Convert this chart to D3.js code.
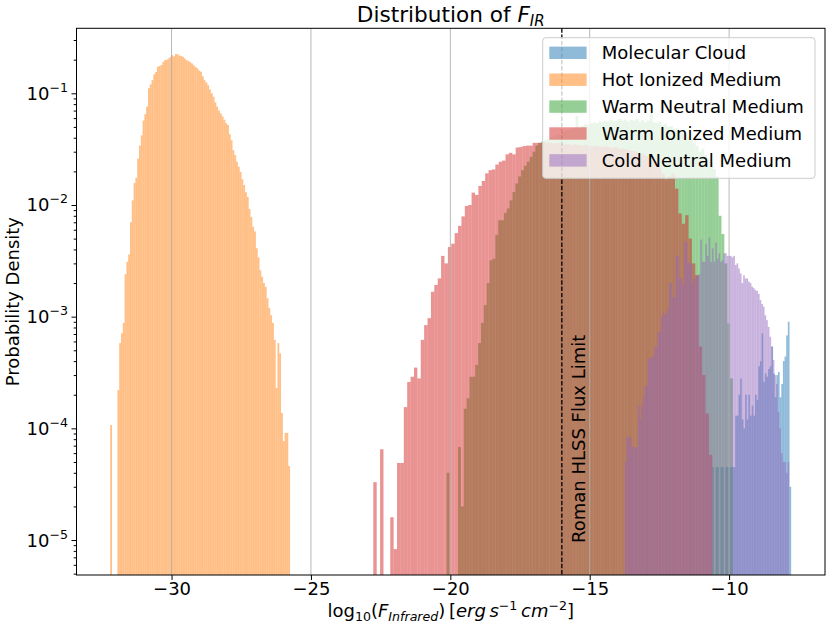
<!DOCTYPE html>
<html>
<head>
  <meta charset="utf-8">
  <script src="https://cdn.jsdelivr.net/npm/d3@7"></script>
  <style>
    body { margin: 0; background: #fff; }
    text { font-family: "DejaVu Sans", sans-serif; fill: #000; }
  </style>
</head>
<body>
<script>
  // --- data ---
  var seriesNames = ["Molecular Cloud", "Hot Ionized Medium", "Warm Neutral Medium",
                     "Warm Ionized Medium", "Cold Neutral Medium"];
  // left edge of the first bin and bin width, per series (log10 flux units)
  var binStart = [-10.606, -32.2, -20.133, -22.763, -13.744];
  var binWidth = [0.059, 0.0645, 0.1027, 0.1216, 0.059];

  var molecularCloud = [
    4.5e-5, 0, 4.5e-5, 4.5e-5, 0, 4.5e-5, 4.5e-5, 0, 4.5e-5, 4.5e-5,
    4.5e-5, 4.5e-5, 4.5e-5, 4.5e-5, 1.3e-4, 1.3e-4, 2.0e-4, 2.8e-4, 1.2e-4, 1.0e-4,
    2.0e-4, 1.2e-4, 2.0e-4, 1.3e-4, 1.6e-4, 1.3e-4, 2.0e-4, 1.8e-4, 3.6e-4, 4.0e-4,
    7.1e-4, 2.6e-4, 3.1e-4, 2.9e-4, 3.4e-4, 3.6e-4, 5.4e-4, 3.1e-4, 1.9e-4, 3.0e-4,
    3.2e-4, 1.9e-4, 2.5e-4, 4.0e-4, 4.4e-4, 6.8e-4, 9.0e-4, 3e-5];

  var hotIonized = [
    1.07e-4, 0, 0, 0, 2.2e-4, 5.8e-4, 7.1e-4, 8.8e-4, 2.4e-3, 3.1e-3,
    3.6e-3, 7.0e-3, 1.1e-2, 1.57e-2, 1.75e-2, 2.6e-2, 3.4e-2, 4.2e-2, 5.7e-2, 6.5e-2,
    7.6e-2, 0.111, 0.12, 0.131, 0.148, 0.155, 0.173, 0.176, 0.179, 0.191,
    0.198, 0.2, 0.205, 0.212, 0.22, 0.214, 0.225, 0.224, 0.218, 0.216,
    0.212, 0.205, 0.198, 0.195, 0.19, 0.185, 0.178, 0.172, 0.167, 0.16,
    0.156, 0.142, 0.131, 0.125, 0.118, 0.108, 0.1, 0.093, 0.083, 0.076,
    0.07, 0.066, 0.062, 0.058, 0.054, 0.052, 0.043, 0.038, 0.031, 0.028,
    0.0244, 0.022, 0.0198, 0.017, 0.0151, 0.013, 0.0118, 0.0092, 0.0078, 0.0064,
    0.0058, 0.0041, 0.0034, 0.0026, 0.00228, 0.002, 0.00185, 0.00146, 0.0012, 0.00103,
    8.8e-4, 6.2e-4, 2.3e-4, 5.8e-4, 4.7e-4, 1.37e-4, 7.7e-5, 9.1e-5, 9.1e-5, 4.6e-5];

  var warmNeutral = [
    4e-5, 0, 0, 0, 6.8e-5, 2e-5, 1.5e-4, 1.86e-4, 2.9e-4, 2.9e-4,
    3.7e-4, 5.8e-4, 8.8e-4, 1.27e-3, 2.0e-3, 3.2e-3, 3.3e-3, 5.4e-3, 7.3e-3, 7.3e-3,
    8.5e-3, 9.3e-3, 1.1e-2, 1.31e-2, 1.56e-2, 1.8e-2, 2.05e-2, 2.25e-2, 2.44e-2, 2.7e-2,
    3.0e-2, 3.4e-2, 3.6e-2, 3.7e-2, 3.8e-2, 3.9e-2, 4.0e-2, 4.1e-2, 4.2e-2, 4.3e-2,
    4.5e-2, 4.6e-2, 4.7e-2, 4.8e-2, 4.9e-2, 6.3e-2, 5.0e-2, 5.1e-2, 5.3e-2, 5.2e-2,
    5.4e-2, 5.5e-2, 5.4e-2, 5.6e-2, 5.5e-2, 5.7e-2, 5.6e-2, 5.8e-2, 5.6e-2, 5.7e-2,
    5.9e-2, 5.7e-2, 5.8e-2, 5.6e-2, 5.8e-2, 5.7e-2, 5.9e-2, 5.6e-2, 5.8e-2, 5.5e-2,
    5.7e-2, 6.6e-2, 5.5e-2, 5.4e-2, 5.6e-2, 5.2e-2, 5.3e-2, 5.0e-2, 5.1e-2, 4.8e-2,
    4.9e-2, 4.6e-2, 4.4e-2, 4.5e-2, 4.1e-2, 3.9e-2, 3.6e-2, 3.4e-2, 3.0e-2, 3.2e-2,
    2.8e-2, 2.6e-2, 2.4e-2, 2.1e-2, 1.8e-2, 8e-3, 5.5e-3, 3.0e-3, 8.7e-4, 2.8e-4];

  var warmIonized = [
    3.3e-5, 0, 6.5e-5, 0, 0, 1.6e-5, 8.3e-6, 4.9e-5, 4.9e-5, 1.55e-4,
    2.6e-4, 2.9e-4, 3.5e-4, 2.8e-4, 6.2e-4, 8.4e-4, 9.7e-4, 1.67e-3, 1.92e-3, 2.2e-3,
    3.5e-3, 3.0e-3, 4.2e-3, 4.5e-3, 5.6e-3, 6.5e-3, 7.9e-3, 9.8e-3, 1.0e-2, 1.29e-2,
    1.23e-2, 1.48e-2, 1.64e-2, 1.92e-2, 2.05e-2, 2.08e-2, 2.3e-2, 2.44e-2, 2.5e-2, 2.84e-2,
    2.93e-2, 2.84e-2, 3.27e-2, 3.3e-2, 3.37e-2, 3.4e-2, 3.4e-2, 3.6e-2, 3.6e-2, 3.6e-2,
    3.65e-2, 3.6e-2, 3.6e-2, 3.55e-2, 3.6e-2, 3.55e-2, 3.5e-2, 3.5e-2, 3.45e-2, 3.5e-2,
    3.45e-2, 3.4e-2, 3.45e-2, 3.4e-2, 3.35e-2, 3.4e-2, 3.35e-2, 3.3e-2, 3.35e-2, 3.3e-2,
    3.25e-2, 3.3e-2, 3.2e-2, 3.2e-2, 3.15e-2, 3.1e-2, 3.05e-2, 3.0e-2, 2.9e-2, 2.85e-2,
    2.75e-2, 2.65e-2, 2.5e-2, 2.35e-2, 2.2e-2, 1.9e-2, 1.7e-2, 1.8e-2, 1.9e-2, 1.4e-2,
    8.4e-3, 6.8e-3, 8.1e-3, 5.0e-3, 3.0e-3, 2.35e-3, 5.4e-4, 3.0e-4, 1.36e-4, 5.8e-5];

  var coldNeutral = [
    5e-5, 8.4e-5, 8.4e-5, 8.4e-5, 6.8e-5, 6.8e-5, 6.8e-5, 6.8e-5, 1.6e-4, 1.2e-4,
    1.6e-4, 1.9e-4, 2.4e-4, 2.4e-4, 4.2e-4, 4.2e-4, 4.3e-4, 4.5e-4, 5.4e-4, 5.4e-4,
    7.3e-4, 7.3e-4, 1.0e-3, 1.1e-3, 1.03e-3, 1.07e-3, 1.2e-3, 2.0e-3, 2.0e-3, 1.5e-3,
    1.5e-3, 3.5e-3, 3.5e-3, 2.2e-3, 2.2e-3, 1.9e-3, 4.7e-3, 4.7e-3, 3.1e-3, 3.0e-3,
    3.0e-3, 2.0e-3, 2.2e-3, 2.35e-3, 2.35e-3, 2.4e-3, 4.9e-3, 3.1e-3, 3.1e-3, 4.5e-3,
    3.5e-3, 5.1e-3, 3.1e-3, 4.1e-3, 3.1e-3, 4.6e-3, 3.3e-3, 3.7e-3, 3.1e-3, 3.2e-3,
    3.7e-3, 3.7e-3, 3.5e-3, 3.5e-3, 3.5e-3, 3.4e-3, 3.5e-3, 2.9e-3, 3.0e-3, 2.7e-3,
    2.44e-3, 2.0e-3, 2.35e-3, 2.2e-3, 2.2e-3, 2.06e-3, 2.0e-3, 1.86e-3, 1.8e-3, 1.73e-3,
    1.7e-3, 1.6e-3, 1.41e-3, 1.3e-3, 1.23e-3, 1.03e-3, 9.3e-4, 8.1e-4, 6.6e-4, 5.4e-4,
    4.1e-4, 3.0e-4, 2.5e-4, 1.4e-4, 1.0e-4, 6e-5, 5e-5, 5e-5, 4e-5, 5e-5];

  var seriesValues = [molecularCloud, hotIonized, warmNeutral, warmIonized, coldNeutral];
  var xTicks = [-30, -25, -20, -15, -10];
  var yTickExponents = [-5, -4, -3, -2, -1];
  var fluxLimit = -16;

  // --- layout ---
  var colors = ["#1f77b4", "#ff7f0e", "#2ca02c", "#d62728", "#9467bd"];
  var width = 831, height = 629;
  var plotL = 76.5, plotR = 825, plotT = 28.3, plotB = 575;

  var x = d3.scaleLinear().domain([-33.41, -6.56]).range([plotL, plotR]);
  var y = d3.scaleLog().domain([Math.pow(10, -5.313), Math.pow(10, -0.418)]).range([plotB, plotT]);

  var svg = d3.select("body").append("svg")
      .attr("width", width).attr("height", height);

  svg.append("clipPath").attr("id", "plot")
    .append("rect").attr("x", plotL).attr("y", plotT)
      .attr("width", plotR - plotL).attr("height", plotB - plotT);

  var plot = svg.append("g").attr("clip-path", "url(#plot)");

  // histograms, drawn in the same order as the legend
  seriesValues.forEach(function (vals, i) {
    var bins = vals.map(function (v, k) {
      return { x0: binStart[i] + k * binWidth[i], x1: binStart[i] + (k + 1) * binWidth[i], v: v };
    }).filter(function (b) { return b.v > 0; });

    plot.append("g")
      .selectAll("rect")
      .data(bins)
      .enter().append("rect")
        .attr("x", function (b) { return x(b.x0); })
        .attr("width", function (b) { return x(b.x1) - x(b.x0); })
        .attr("y", function (b) { return y(b.v); })
        .attr("height", function (b) { return plotB - y(b.v); })
        .attr("fill", colors[i])
        .attr("fill-opacity", 0.5);
  });

  // vertical grid (sits above the bars, like matplotlib)
  plot.append("g").selectAll("line")
    .data(xTicks).enter().append("line")
      .attr("x1", function (d) { return x(d); }).attr("x2", function (d) { return x(d); })
      .attr("y1", plotT).attr("y2", plotB)
      .attr("stroke", "#b0b0b0").attr("stroke-width", 0.9);

  // flux limit line + label
  plot.append("line")
    .attr("x1", x(fluxLimit)).attr("x2", x(fluxLimit))
    .attr("y1", plotT).attr("y2", plotB)
    .attr("stroke", "#000").attr("stroke-width", 1.3)
    .attr("stroke-dasharray", "4.4,1.9");

  svg.append("text")
    .attr("transform", "translate(" + (x(fluxLimit) + 23) + "," + 543 + ") rotate(-90)")
    .style("font-size", "18px")
    .text("Roman HLSS Flux Limit");

  // frame
  svg.append("rect")
    .attr("x", plotL).attr("y", plotT)
    .attr("width", plotR - plotL).attr("height", plotB - plotT)
    .attr("fill", "none").attr("stroke", "#000").attr("stroke-width", 1);

  // x axis
  var xAxis = svg.append("g")
      .attr("transform", "translate(0," + plotB + ")")
      .call(d3.axisBottom(x).tickValues(xTicks).tickSize(5).tickPadding(2.5)
        .tickFormat(d3.format("d")));
  xAxis.select(".domain").remove();
  xAxis.selectAll("text").style("font-size", "18px").style("font-family", "DejaVu Sans");

  // y axis: major ticks, minor ticks, mathtext-like labels
  var minor = [];
  for (var e = -6; e <= 0; e++) {
    for (var m = 2; m <= 9; m++) {
      var v = m * Math.pow(10, e);
      if (v > y.domain()[0] && v < y.domain()[1]) minor.push(v);
    }
  }
  var yMinor = svg.append("g").attr("transform", "translate(" + plotL + ",0)")
      .call(d3.axisLeft(y).tickValues(minor).tickSize(2.8).tickFormat(""));
  yMinor.select(".domain").remove();

  var yMajor = svg.append("g").attr("transform", "translate(" + plotL + ",0)")
      .call(d3.axisLeft(y).tickValues(yTickExponents.map(function (p) { return Math.pow(10, p); }))
        .tickSize(5).tickFormat(""));
  yMajor.select(".domain").remove();

  yTickExponents.forEach(function (p) {
    var t = svg.append("text")
        .attr("x", plotL - 8.5)
        .attr("y", y(Math.pow(10, p)) + 6.5)
        .attr("text-anchor", "end")
        .style("font-size", "18px");
    t.append("tspan").text("10");
    t.append("tspan").attr("dy", -8).style("font-size", "12.6px").text("\u2212" + Math.abs(p));
  });

  // labels
  svg.append("text")
    .attr("transform", "translate(19," + ((plotT + plotB) / 2) + ") rotate(-90)")
    .attr("text-anchor", "middle")
    .style("font-size", "18px")
    .text("Probability Density");

  var xl = svg.append("text")
      .attr("x", (plotL + plotR) / 2).attr("y", 617)
      .attr("text-anchor", "middle")
      .style("font-size", "18px");
  xl.append("tspan").text("log");
  xl.append("tspan").attr("dy", 4).style("font-size", "12.6px").text("10");
  xl.append("tspan").attr("dy", -4).text("(");
  xl.append("tspan").style("font-style", "italic").text("F");
  xl.append("tspan").attr("dy", 4).style("font-size", "12.6px").style("font-style", "italic").text("Infrared");
  xl.append("tspan").attr("dy", -4).text(")\u2009[");
  xl.append("tspan").style("font-style", "italic").text("erg\u2009s");
  xl.append("tspan").attr("dy", -7).style("font-size", "12.6px").text("\u22121");
  xl.append("tspan").attr("dy", 7).style("font-style", "italic").text("\u2009cm");
  xl.append("tspan").attr("dy", -7).style("font-size", "12.6px").text("\u22122");
  xl.append("tspan").attr("dy", 7).text("]");

  var title = svg.append("text")
      .attr("x", (plotL + plotR) / 2).attr("y", 21.7)
      .attr("text-anchor", "middle")
      .style("font-size", "21.6px");
  title.append("tspan").text("Distribution of ");
  title.append("tspan").style("font-style", "italic").text("F");
  title.append("tspan").attr("dy", 4).style("font-size", "15px").style("font-style", "italic").text("IR");

  // legend
  var legend = svg.append("g");
  legend.append("rect")
    .attr("x", 542.7).attr("y", 37.7).attr("width", 815 - 542.7).attr("height", 178.3 - 37.7)
    .attr("rx", 3).attr("fill", "#fff").attr("fill-opacity", 0.8)
    .attr("stroke", "#cccccc").attr("stroke-width", 1);

  var rows = legend.selectAll("g.row").data(seriesNames).enter().append("g")
      .attr("class", "row")
      .attr("transform", function (d, i) { return "translate(0," + (52.8 + i * 26.9) + ")"; });
  rows.append("rect")
    .attr("x", 549.3).attr("y", -6.2).attr("width", 37.3).attr("height", 12.4)
    .attr("fill", function (d, i) { return colors[i]; }).attr("fill-opacity", 0.5);
  rows.append("text")
    .attr("x", 601.7).attr("y", 6.4)
    .style("font-size", "18px")
    .text(function (d) { return d; });
</script>
</body>
</html>
